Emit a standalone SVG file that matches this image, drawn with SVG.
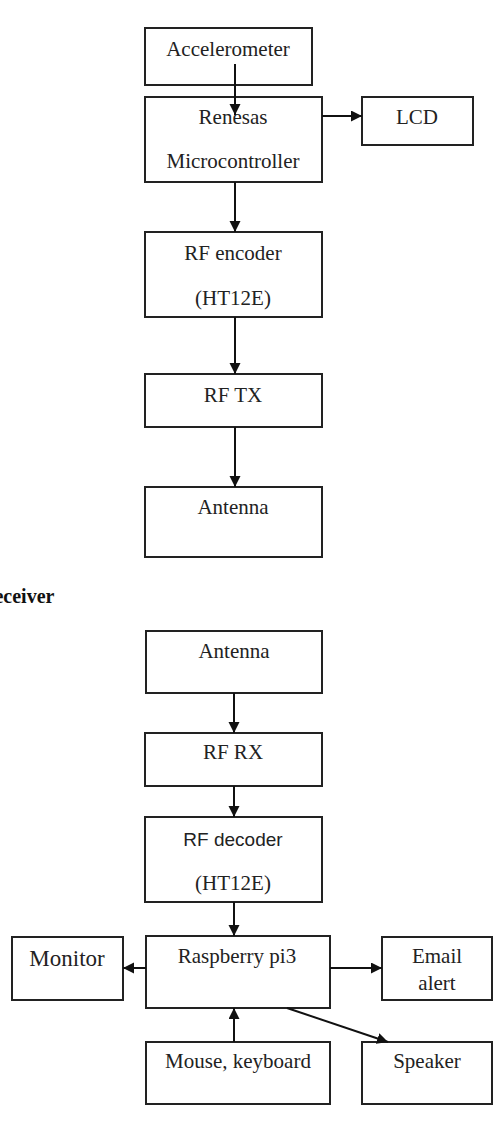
<svg xmlns="http://www.w3.org/2000/svg" width="493" height="1124" viewBox="0 0 493 1124">
<style>
.box{fill:#fff;stroke:#222;stroke-width:2}
.t{font-family:"Liberation Serif",serif;font-size:21px;fill:#222;text-anchor:middle}
.s{font-family:"Liberation Sans",sans-serif;font-size:19px;fill:#222;text-anchor:middle}
.c{stroke:#111;stroke-width:2;fill:none;marker-end:url(#ah)}
</style>
<defs>
<marker id="ah" markerWidth="12" markerHeight="12" refX="11" refY="5.5" orient="auto" markerUnits="userSpaceOnUse">
<path d="M0,0 L11,5.5 L0,11 Z" fill="#111"/>
</marker>
</defs>
<rect width="493" height="1124" fill="#fff"/>
<g id="accel"><rect class="box" x="145" y="28" width="167" height="57"/><text class="t" x="228" y="56">Accelerometer</text></g>
<g id="renesas"><rect class="box" x="145" y="97" width="177" height="85"/><text class="t" x="233" y="124">Renesas</text><text class="t" x="233" y="168">Microcontroller</text></g>
<g id="lcd"><rect class="box" x="362" y="97" width="111" height="48"/><text class="t" x="417" y="124">LCD</text></g>
<g id="encoder"><rect class="box" x="145" y="232" width="177" height="85"/><text class="t" x="233" y="260">RF encoder</text><text class="t" x="233" y="305">(HT12E)</text></g>
<g id="rftx"><rect class="box" x="145" y="374" width="177" height="53"/><text class="t" x="233" y="402">RF TX</text></g>
<g id="antenna-tx"><rect class="box" x="145" y="487" width="177" height="70"/><text class="t" x="233" y="514">Antenna</text></g>
<text x="-20" y="603" font-family="Liberation Serif,serif" font-weight="bold" font-size="20" fill="#111">Receiver</text>
<g id="antenna-rx"><rect class="box" x="146" y="631" width="176" height="62"/><text class="t" x="234" y="658">Antenna</text></g>
<g id="rfrx"><rect class="box" x="145" y="733" width="177" height="53"/><text class="t" x="233" y="759">RF RX</text></g>
<g id="decoder"><rect class="box" x="145" y="817" width="177" height="85"/><text class="s" x="233" y="846">RF decoder</text><text class="t" x="233" y="890">(HT12E)</text></g>
<g id="rpi"><rect class="box" x="146" y="936" width="184" height="72"/><text class="t" x="237" y="963">Raspberry pi3</text></g>
<g id="monitor"><rect class="box" x="12" y="937" width="111" height="63"/><text class="t" x="67" y="966" style="font-size:23px">Monitor</text></g>
<g id="email"><rect class="box" x="382" y="937" width="110" height="63"/><text class="t" x="437" y="963">Email</text><text class="t" x="437" y="990">alert</text></g>
<g id="mouse"><rect class="box" x="146" y="1042" width="184" height="62"/><text class="t" x="238" y="1068">Mouse, keyboard</text></g>
<g id="speaker"><rect class="box" x="362" y="1042" width="130" height="62"/><text class="t" x="427" y="1068">Speaker</text></g>
<g id="connectors">
<line class="c" x1="235" y1="64" x2="235" y2="115"/>
<line class="c" x1="322" y1="116" x2="362" y2="116"/>
<line class="c" x1="235" y1="182" x2="235" y2="232"/>
<line class="c" x1="235" y1="317" x2="235" y2="374"/>
<line class="c" x1="235" y1="427" x2="235" y2="487"/>
<line class="c" x1="234" y1="693" x2="234" y2="733"/>
<line class="c" x1="234" y1="786" x2="234" y2="817"/>
<line class="c" x1="234" y1="902" x2="234" y2="936"/>
<line class="c" x1="146" y1="968" x2="123" y2="968"/>
<line class="c" x1="330" y1="968" x2="382" y2="968"/>
<line class="c" x1="234" y1="1042" x2="234" y2="1008"/>
<line class="c" x1="287" y1="1008" x2="388" y2="1042"/>
</g>
</svg>
